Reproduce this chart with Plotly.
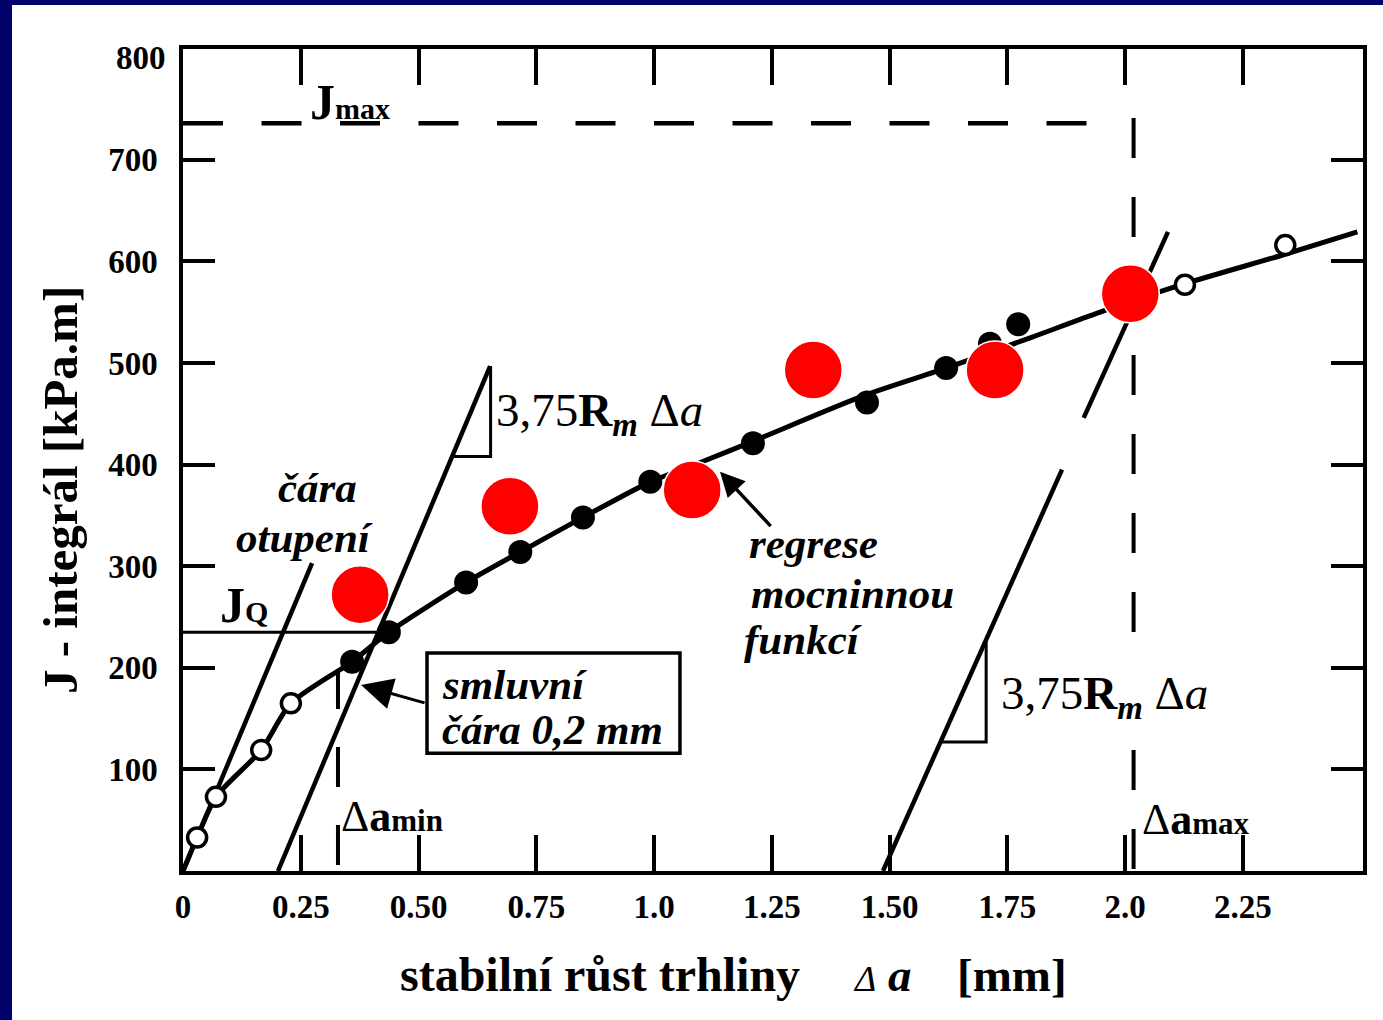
import plotly.graph_objects as go

# ---------------------------------------------------------------- data
# open circles: blunting region and points beyond the validity limit
open_da = [0.030, 0.070, 0.166, 0.229, 2.127, 2.340]
open_j = [33, 73, 119, 165, 577, 616]

# filled circles: valid J-R data
filled_da = [0.359, 0.437, 0.601, 0.716, 0.849, 0.992, 1.210, 1.452, 1.620, 1.713, 1.773]
filled_j = [206, 235, 284, 314, 348, 383, 421, 461, 495, 519, 538]

# highlighted points
red_da = [0.376, 0.694, 1.081, 1.338, 1.724, 2.011]
red_j = [272, 359, 375, 493, 493, 568]

# power-law regression curve
reg_da = [0.0, 0.030, 0.070, 0.166, 0.229, 0.359, 0.437, 0.601, 0.716, 0.849,
          0.992, 1.098, 1.210, 1.452, 1.620, 1.800, 1.947, 2.127, 2.340, 2.493]
reg_j = [0, 33, 73, 119, 165, 206, 235, 284, 314, 348,
         383, 402, 423, 469, 495, 525, 550, 578, 607, 629]

# blunting line, 0.2 mm offset line and the 1.5 mm exclusion line
blunt_da = [0.0, 0.274]
blunt_j = [0, 303]
offset_da = [0.2017, 0.652]
offset_j = [0, 497]
excl_da = [1.486, 1.866, None, 1.912, 2.091]
excl_j = [0, 395, None, 446, 629]

# slope triangles (3,75 Rm Δa)
tri1_da = [0.572, 0.653, 0.653]
tri1_j = [408, 408, 497]
tri2_da = [1.608, 1.705, 1.705]
tri2_j = [127, 127, 226]

# characteristic levels
jq_val = 235
jq_da = [0.0, 0.412]
jmax_val = 736
jmax_da = [0.0, 1.93]
da_min = 0.329
da_min_j = [6, 200]
da_max = 2.018
da_max_j = [741, 0]

# axis ticks
x_ticks = [0, 0.25, 0.5, 0.75, 1.0, 1.25, 1.5, 1.75, 2.0, 2.25]
x_ticktext = ["0", "0.25", "0.50", "0.75", "1.0", "1.25", "1.50", "1.75", "2.0", "2.25"]
y_ticks = [100, 200, 300, 400, 500, 600, 700]
y_top_label = 800

# ---------------------------------------------------------------- styling
SERIF = "Liberation Serif"
NAVY = "#01016a"
BLACK = "black"
TICK_SIZE = 33

fig = go.Figure()


def line(xs, ys, width, dash="solid", shape="linear"):
    fig.add_trace(go.Scatter(
        x=xs, y=ys, mode="lines",
        line=dict(color=BLACK, width=width, dash=dash, shape=shape, smoothing=0.7),
        hoverinfo="skip", showlegend=False, connectgaps=False,
    ))


line(jq_da, [jq_val, jq_val], 3)
line(jmax_da, [jmax_val, jmax_val], 4.5, dash="40px,38.5px")
line([da_max, da_max], da_max_j, 4, dash="40px,39px")
line([da_min, da_min], da_min_j, 4, dash="40px,38px")
line(blunt_da, blunt_j, 4.5)
line(offset_da, offset_j, 4.5)
line(excl_da, excl_j, 4.5)
line(tri1_da, tri1_j, 3)
line(tri2_da, tri2_j, 3)
line(reg_da, reg_j, 5, shape="spline")

fig.add_trace(go.Scatter(
    x=filled_da, y=filled_j, mode="markers",
    marker=dict(size=24, color=BLACK, line=dict(width=0)),
    hoverinfo="skip", showlegend=False,
))
fig.add_trace(go.Scatter(
    x=open_da, y=open_j, mode="markers",
    marker=dict(size=19, color="white", line=dict(width=3.5, color=BLACK)),
    hoverinfo="skip", showlegend=False,
))
fig.add_trace(go.Scatter(
    x=red_da, y=red_j, mode="markers",
    marker=dict(size=58, color="#ff0000", line=dict(width=1.5, color="white")),
    hoverinfo="skip", showlegend=False,
))

# white page on the navy slide background
fig.add_shape(type="rect", xref="paper", yref="paper",
              x0=-0.1449, x1=1.02, y0=-0.19, y1=1.0535,
              fillcolor="white", line=dict(width=0), layer="below")

# "smluvní čára" box
fig.add_shape(type="rect", xref="x", yref="y",
              x0=0.518, x1=1.055, y0=116, y1=214.6,
              line=dict(color=BLACK, width=3.5), fillcolor="rgba(0,0,0,0)")


def label(x, y, text, size, xanchor="left", bg=None, **kw):
    fig.add_annotation(
        x=x, y=y, xref="x", yref="y", text=text, showarrow=False,
        xanchor=xanchor, yanchor="middle",
        font=dict(family=SERIF, size=size, color=BLACK),
        bgcolor=bg, borderpad=0, **kw,
    )


label(0.268, 757, "<b>J<span style='font-size:30px'>max</span></b>", 50)
label(0.077, 262, "<b>J<span style='font-size:30px'>Q</span></b>", 50)
label(0.2845, 377, "<b><i>čára</i></b>", 43, xanchor="center")
label(0.257, 328, "<b><i>otupení</i></b>", 43, xanchor="center")
label(1.199, 322, "<b><i>regrese</i></b>", 43)
label(1.203, 273, "<b><i>mocninnou</i></b>", 43)
label(1.189, 228, "<b><i>funkcí</i></b>", 43)
label(0.547, 184, "<b><i>smluvní</i></b>", 43)
label(0.547, 139, "<b><i>čára 0,2 mm</i></b>", 43)
label(0.662, 450, "3,75<b>R</b><sub><b><i>m</i></b></sub> Δ<i>a</i>", 47)
label(1.734, 172, "3,75<b>R</b><sub><b><i>m</i></b></sub> Δ<i>a</i>", 47, bg="white")
label(0.333, 54, "Δ<b>a</b><b><span style='font-size:31px'>min</span></b>", 44)
label(2.034, 51, "Δ<b>a</b><b><span style='font-size:31px'>max</span></b>", 44)

# arrows pointing to the offset line and to the regression curve
fig.add_annotation(x=0.378, y=183, ax=0.516, ay=165, xref="x", yref="y",
                   axref="x", ayref="y", text="", showarrow=True,
                   arrowhead=2, arrowsize=2.1, arrowwidth=3, arrowcolor=BLACK)
fig.add_annotation(x=1.140, y=393, ax=1.2505, ay=338, xref="x", yref="y",
                   axref="x", ayref="y", text="", showarrow=True,
                   arrowhead=2, arrowsize=1.4, arrowwidth=3.5, arrowcolor=BLACK)

# top y tick label (tick itself coincides with the frame)
fig.add_annotation(x=0, y=y_top_label, xref="paper", yref="y", text=str(y_top_label),
                   showarrow=False, xanchor="right", yanchor="middle", xshift=-15,
                   font=dict(family=SERIF, size=TICK_SIZE, color=BLACK, weight="bold"))

# axis titles
fig.add_annotation(x=-0.1042, y=0.4635, xref="paper", yref="paper",
                   text="<b>J - integrál [kPa.m]</b>", textangle=-90, showarrow=False,
                   xanchor="center", yanchor="middle",
                   font=dict(family=SERIF, size=49, color=BLACK))
fig.add_annotation(x=0.3534, y=-0.1265, xref="paper", yref="paper",
                   text="<b>stabilní růst trhliny</b>", showarrow=False,
                   xanchor="center", yanchor="middle",
                   font=dict(family=SERIF, size=48, color=BLACK))
fig.add_annotation(x=0.566, y=-0.1265, xref="paper", yref="paper",
                   text="<i><span style='font-size:36px'>Δ</span></i> <b><i>a</i></b>",
                   showarrow=False, xanchor="left", yanchor="middle",
                   font=dict(family=SERIF, size=47, color=BLACK))
fig.add_annotation(x=0.654, y=-0.1265, xref="paper", yref="paper",
                   text="<b>[mm]</b>", showarrow=False, xanchor="left", yanchor="middle",
                   font=dict(family=SERIF, size=47, color=BLACK))

axis_common = dict(
    showline=True, linecolor=BLACK, linewidth=3.5, mirror="ticks",
    ticks="inside", tickcolor=BLACK, tickwidth=3.5,
    showgrid=False, zeroline=False,
    tickfont=dict(family=SERIF, size=TICK_SIZE, color=BLACK, weight="bold"),
)

fig.update_xaxes(range=[0, 2.505], tickmode="array", tickvals=x_ticks,
                 ticktext=x_ticktext, ticklen=36, ticklabelstandoff=4, **axis_common)
fig.update_yaxes(range=[0, 809], tickmode="array", tickvals=y_ticks,
                 ticktext=[str(v) for v in y_ticks], ticklen=32,
                 ticklabelstandoff=15, **axis_common)

fig.update_layout(
    width=1383, height=1020,
    margin=dict(l=183, r=20, t=49, b=149),
    paper_bgcolor=NAVY, plot_bgcolor="white",
    showlegend=False,
)

fig.write_html("out.html")
